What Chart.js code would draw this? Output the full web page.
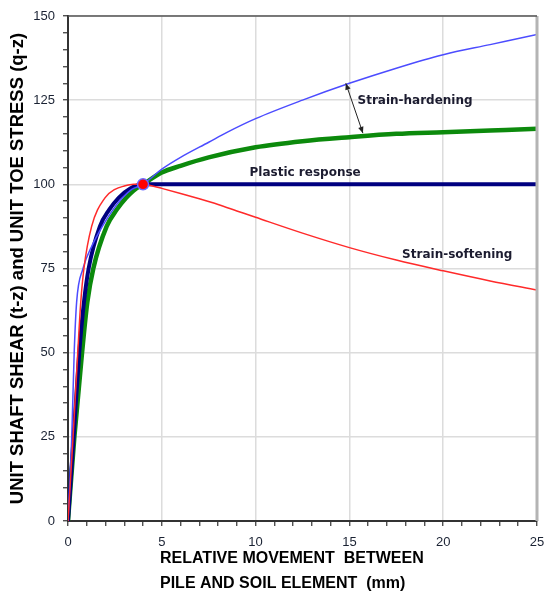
<!DOCTYPE html>
<html><head><meta charset="utf-8">
<script src="https://cdn.jsdelivr.net/npm/chart.js@4.4.0/dist/chart.umd.min.js"></script>
<style>body{margin:0;background:#fff}canvas{display:block}</style>
</head><body>
<canvas id="c" width="547" height="596"></canvas>
<script>
// --- curvas t-z / q-z ---
var hardX=[0,0.2,0.33,0.46,0.8,1.3,1.83,2.4,2.9,3.4,4,5,6,7.5,8.5,10,12.5,15,17.5,20,22.5,25];
var hardY=[0,25,50,65,75,82,87.5,92.5,96,98.5,100,104.5,108,112.5,115.5,119.5,125,130,134.5,138.5,141.5,144.5];
var hard2X=[0,0.34,0.75,1.03,1.35,2.06,2.6,3.1,3.5,4,5,6,7.5,10,12.5,15,17.5,20,22.5,25];
var hard2Y=[0,25,50,65,75,87.5,92.5,96,98.2,100,103.5,105.5,108,111,112.8,114,115,115.5,116,116.5];
var plastX=[0,0.3,0.6,0.85,1.1,1.7,2.2,2.7,3.3,4,25];
var plastY=[0,25,50,65,75,87.5,92.5,96,98.7,100,100];
var softX=[0,0.27,0.52,0.68,0.85,1.26,1.97,2.5,3,3.5,4,4.5,5,6,7,8,9,10,12.5,15,17.5,20,22.5,25];
var softY=[0,25,50,65,75,87.5,96,98.5,99.5,100,100,99.5,98.8,97.3,95.7,94,92.1,90.2,85.5,81.2,77.5,74.3,71.3,68.6];
var peakX=[4],peakY=[100];
var xTicks=[0,5,10,15,20,25];
var yTicks=[0,25,50,75,100,125,150];

function pts(xs,ys){return xs.map(function(x,i){return {x:x,y:ys[i]};});}

var extras={id:'extras',afterDraw:function(ch){
  var c=ch.ctx,xs=ch.scales.x,ys=ch.scales.y,a=ch.chartArea;
  c.save();
  // marco superior y derecho
  c.strokeStyle='#b4b4b4';c.lineWidth=3;
  c.beginPath();c.moveTo(a.right,a.top);c.lineTo(a.right,a.bottom);c.stroke();
  c.strokeStyle='#555';c.lineWidth=1.5;
  c.beginPath();c.moveTo(a.left,a.top);c.lineTo(a.right,a.top);c.stroke();
  // flecha doble
  var x1=xs.getPixelForValue(14.81),y1=ys.getPixelForValue(130);
  var x2=xs.getPixelForValue(15.72),y2=ys.getPixelForValue(115.2);
  c.strokeStyle='#222';c.fillStyle='#222';c.lineWidth=1;
  c.beginPath();c.moveTo(x1,y1);c.lineTo(x2,y2);c.stroke();
  function head(px,py,qx,qy){
    var ang=Math.atan2(py-qy,px-qx),L=7,w=0.4;
    c.beginPath();c.moveTo(px,py);
    c.lineTo(px-L*Math.cos(ang-w),py-L*Math.sin(ang-w));
    c.lineTo(px-L*Math.cos(ang+w),py-L*Math.sin(ang+w));
    c.closePath();c.fill();
  }
  head(x1,y1,x2,y2);head(x2,y2,x1,y1);
  // etiquetas
  c.font='bold 12px "DejaVu Sans"';c.fillStyle='#1c1c30';c.textAlign='center';c.textBaseline='middle';
  c.fillText('Strain-hardening',xs.getPixelForValue(18.5),ys.getPixelForValue(124.9));
  c.fillText('Plastic response',xs.getPixelForValue(12.64),ys.getPixelForValue(103.3));
  c.fillText('Strain-softening',xs.getPixelForValue(20.75),ys.getPixelForValue(79));
  // titulos de ejes
  c.fillStyle='#000';
  c.font='bold 18.5px "Liberation Sans"';
  c.save();c.translate(18,(a.top+a.bottom)/2);c.rotate(-Math.PI/2);
  c.fillText('UNIT SHAFT SHEAR (t-z) and UNIT TOE STRESS (q-z)',0,0);
  c.restore();
  c.font='bold 16px "Liberation Sans"';
  c.textAlign='left';
  c.fillText('RELATIVE MOVEMENT  BETWEEN',160,559);
  c.fillText('PILE AND SOIL ELEMENT  (mm)',160,584);
  c.restore();
}};

new Chart(document.getElementById('c'),{
  type:'line',
  data:{datasets:[
    {data:pts(peakX,peakY),showLine:false,pointRadius:5.5,pointBackgroundColor:'#ff0000',pointBorderColor:'#6a6aff',pointBorderWidth:1.5},
    {data:pts(softX,softY),borderColor:'#ff2a2a',borderWidth:1.5,pointRadius:0,cubicInterpolationMode:'monotone'},
    {data:pts(hardX,hardY),borderColor:'#4c4cff',borderWidth:1.5,pointRadius:0,cubicInterpolationMode:'monotone'},
    {data:pts(plastX,plastY),borderColor:'#000080',borderWidth:4,pointRadius:0,cubicInterpolationMode:'monotone'},
    {data:pts(hard2X,hard2Y),borderColor:'#0c8a0c',borderWidth:4.5,pointRadius:0,cubicInterpolationMode:'monotone'}
  ]},
  options:{
    responsive:false,animation:false,
    layout:{padding:{left:0,top:16,right:10,bottom:0}},
    plugins:{legend:{display:false},tooltip:{enabled:false}},
    scales:{
      x:{type:'linear',min:0,max:25,
        afterFit:function(s){s.height=75;s.paddingLeft=0;s.paddingRight=0;},
        ticks:{stepSize:1,autoSkip:false,maxRotation:0,maxTicksLimit:100,padding:9,color:'#1a2233',font:{family:'Liberation Sans',size:13},
          callback:function(v){return xTicks.indexOf(v)>=0?v:'';}},
        grid:{color:function(ctx){return ctx.tick&&xTicks.indexOf(ctx.tick.value)>=0?'#dcdcdc':'rgba(0,0,0,0)';},
          lineWidth:1.5,tickColor:'#333',tickLength:5,tickWidth:1.2},
        border:{color:'#333',width:2}
      },
      y:{type:'linear',min:0,max:150,
        afterFit:function(s){s.width=68;s.paddingTop=0;s.paddingBottom=0;},
        ticks:{stepSize:5,autoSkip:false,maxTicksLimit:100,padding:8,color:'#1a2233',font:{family:'Liberation Sans',size:13},
          callback:function(v){return yTicks.indexOf(v)>=0?v:'';}},
        grid:{color:function(ctx){return ctx.tick&&yTicks.indexOf(ctx.tick.value)>=0?'#dcdcdc':'rgba(0,0,0,0)';},
          lineWidth:1.5,tickColor:'#333',tickLength:5,tickWidth:1.2},
        border:{color:'#333',width:2}
      }
    }
  },
  plugins:[extras]
});
</script>
</body></html>
